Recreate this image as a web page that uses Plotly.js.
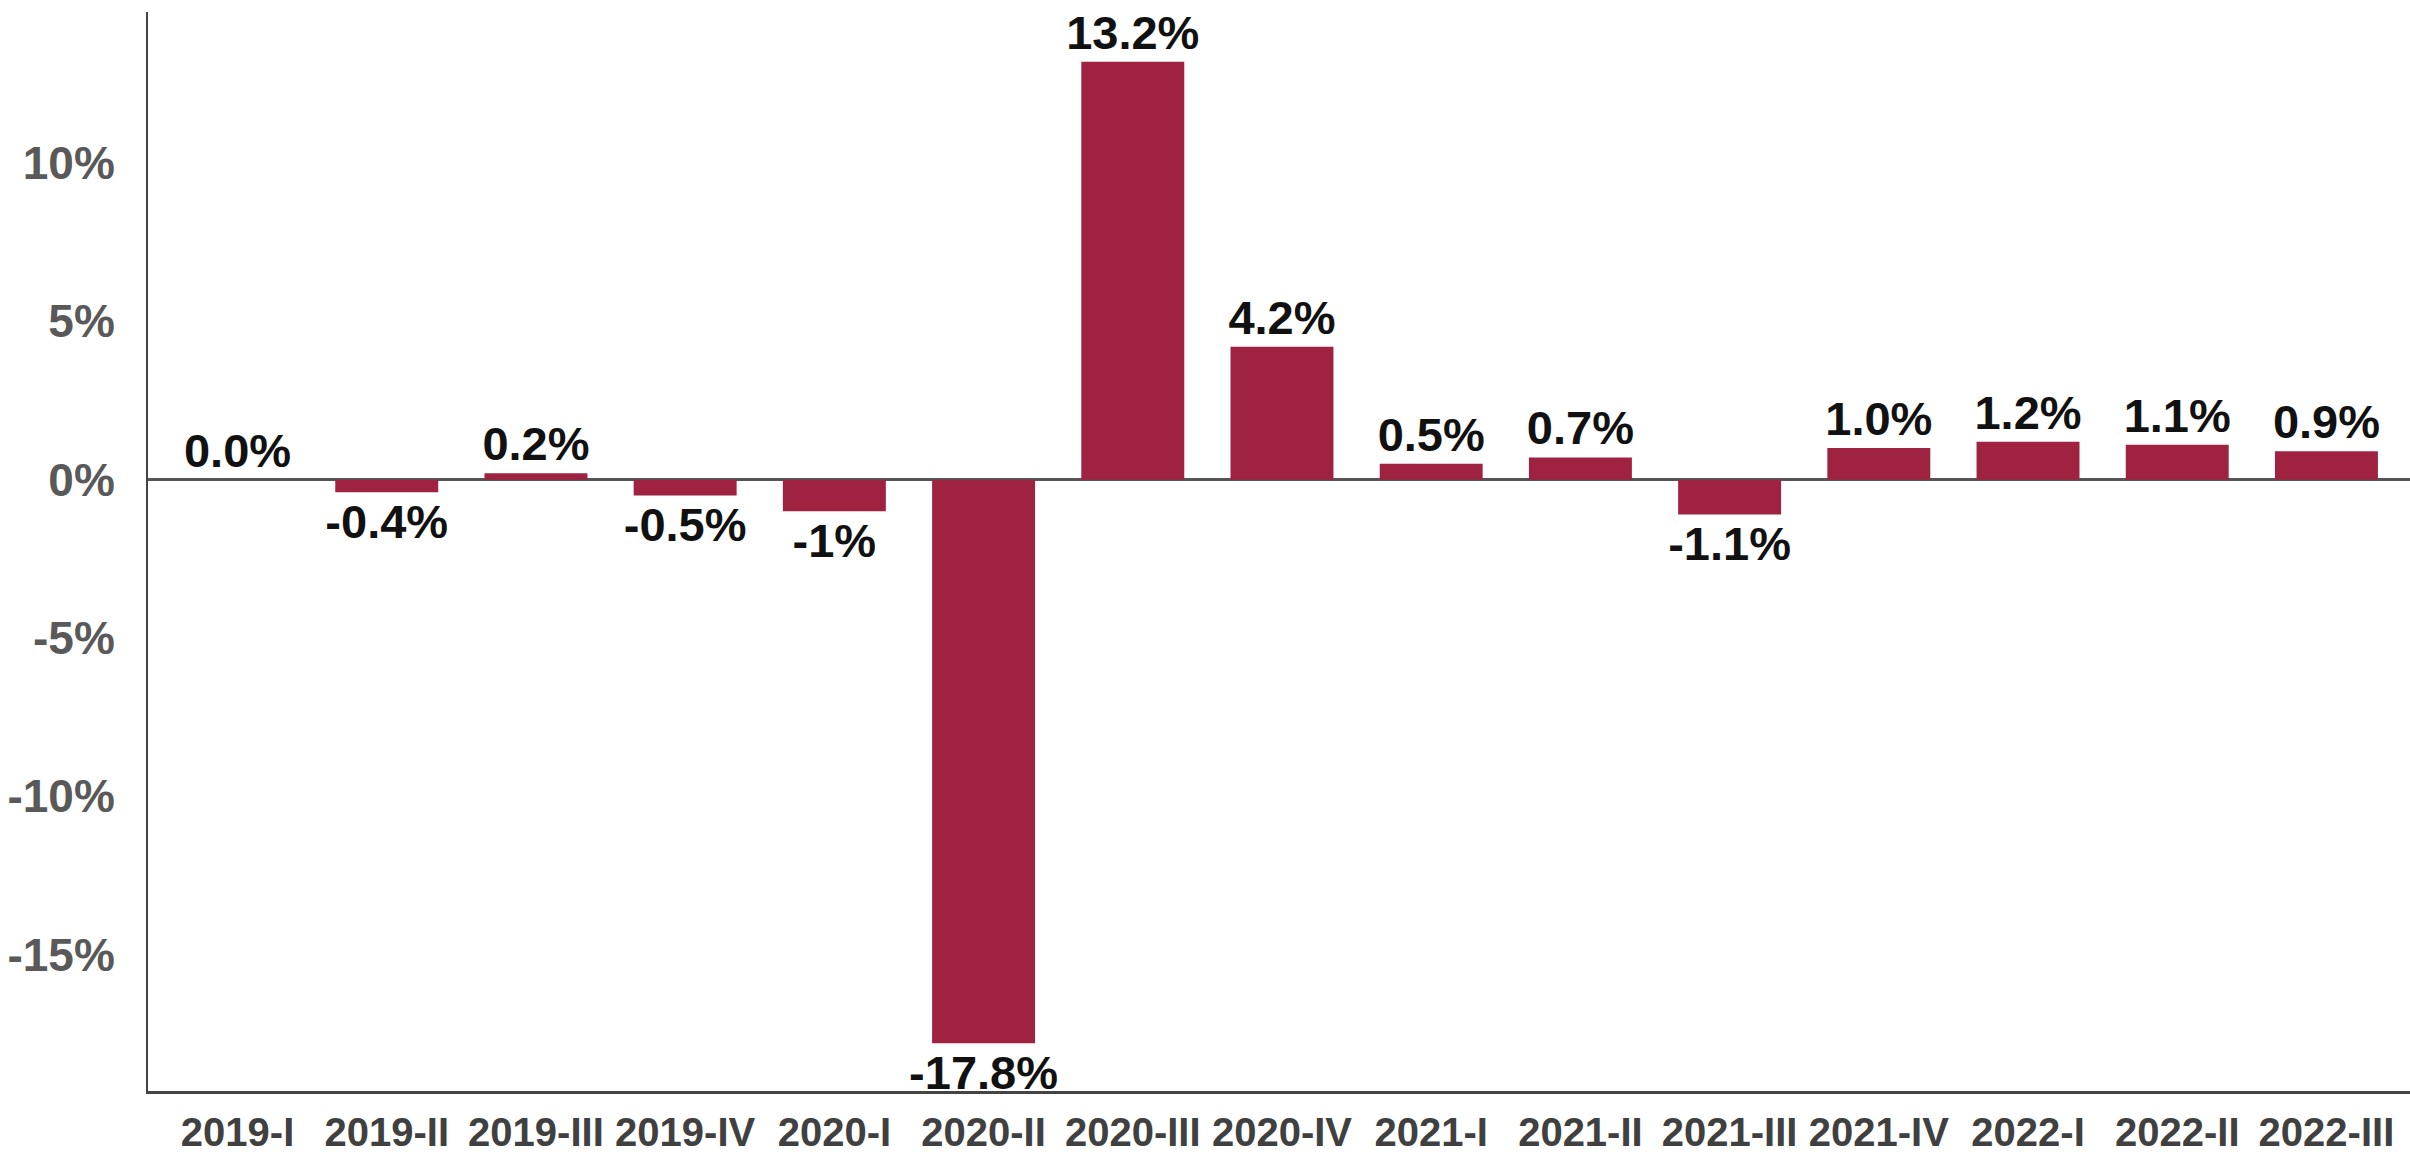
<!DOCTYPE html>
<html>
<head>
<meta charset="utf-8">
<script src="https://cdn.plot.ly/plotly-3.0.1.min.js"></script>
<style>
  html, body { margin: 0; padding: 0; background: #ffffff; }
  #chart { width: 2410px; height: 1154px; }
</style>
</head>
<body>
<div id="chart"></div>
<script>
// Quarters (categories)
const quarters = ["2019-I", "2019-II", "2019-III", "2019-IV", "2020-I", "2020-II", "2020-III",
                  "2020-IV", "2021-I", "2021-II", "2021-III", "2021-IV", "2022-I", "2022-II", "2022-III"];
// Quarterly change, %
const changes = [0.0, -0.4, 0.2, -0.5, -1.0, -17.8, 13.2, 4.2, 0.5, 0.7, -1.1, 1.0, 1.2, 1.1, 0.9];
// Value labels as printed on the chart
const valueLabels = ["0.0%", "-0.4%", "0.2%", "-0.5%", "-1%", "-17.8%", "13.2%", "4.2%",
                     "0.5%", "0.7%", "-1.1%", "1.0%", "1.2%", "1.1%", "0.9%"];
// Y-axis tick values and labels
const yTickVals = [-15, -10, -5, 0, 5, 10];
const yTickText = ["-15%", "-10%", "-5%", "0%", "5%", "10%"];

const FONT = "'Liberation Sans', Arial, Helvetica, sans-serif";

const trace = {
  type: "bar",
  x: quarters,
  y: changes,
  text: valueLabels,
  texttemplate: "%{text}",
  textposition: "outside",
  constraintext: "none",
  cliponaxis: false,
  textfont: { family: FONT, size: 47, color: "#111111", weight: "bold" },
  marker: { color: "#9F2241", line: { width: 0 } },
  hoverinfo: "skip"
};

const layout = {
  width: 2410,
  height: 1154,
  margin: { l: 148, r: 0, t: 12, b: 63, pad: 0 },
  paper_bgcolor: "#ffffff",
  plot_bgcolor: "rgba(0,0,0,0)",
  showlegend: false,
  bargap: 0.31,
  font: { family: FONT },
  xaxis: {
    type: "category",
    range: [-0.6, 14.56],
    showgrid: false,
    zeroline: false,
    showline: true,
    linecolor: "#444444",
    linewidth: 3,
    ticks: "",
    ticklabelstandoff: 4,
    tickfont: { family: FONT, size: 40, color: "#404040", weight: "bold" },
    fixedrange: true
  },
  yaxis: {
    range: [-19.31, 14.77],
    tickvals: yTickVals,
    ticktext: yTickText,
    showgrid: false,
    zeroline: true,
    zerolinecolor: "#555555",
    zerolinewidth: 3,
    showline: true,
    linecolor: "#444444",
    linewidth: 2,
    ticks: "",
    ticklabelstandoff: 22,
    tickfont: { family: FONT, size: 46, color: "#595959", weight: "bold" },
    fixedrange: true
  }
};

Plotly.newPlot("chart", [trace], layout, { staticPlot: true, displayModeBar: false });
</script>
</body>
</html>
